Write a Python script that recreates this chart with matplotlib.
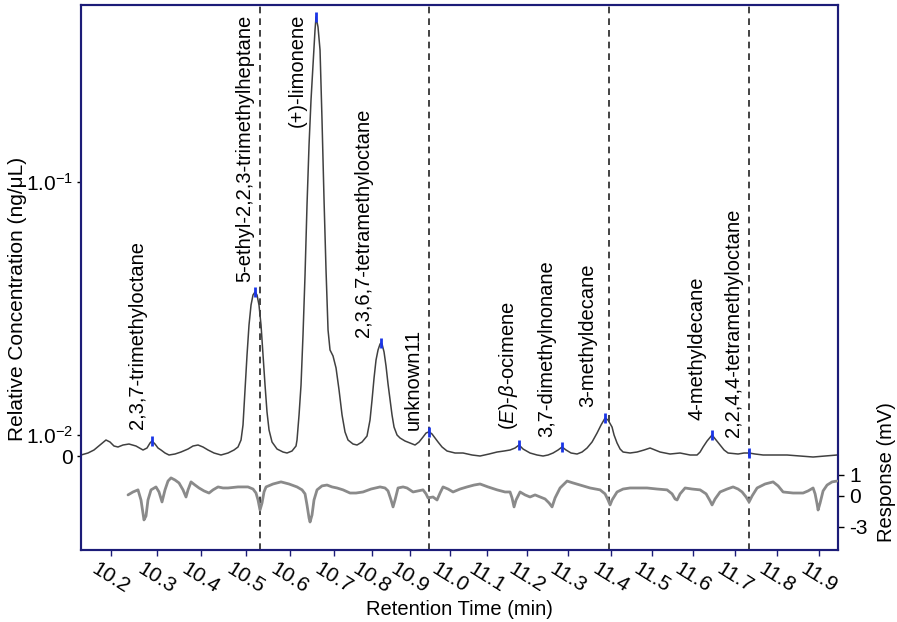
import numpy as np
import matplotlib
matplotlib.use("Agg")
import matplotlib.pyplot as plt

plt.rcParams['font.family'] = ['Liberation Sans', 'DejaVu Sans']
plt.rcParams['mathtext.fontset'] = 'custom'
plt.rcParams['mathtext.rm'] = 'Liberation Sans'
plt.rcParams['mathtext.it'] = 'Liberation Sans:italic'
plt.rcParams['mathtext.bf'] = 'Liberation Sans:bold'

# ---------------- data ----------------
# upper trace: relative concentration (ng/uL) vs retention time (min)
top_t = [10.1348, 10.150, 10.163, 10.1761, 10.1891, 10.1978, 10.2065, 10.2152, 10.2261, 10.2391,
         10.2543, 10.2696, 10.2783, 10.2848, 10.2891, 10.2957, 10.3023, 10.3091, 10.3182, 10.3273,
         10.3409, 10.3545, 10.3705, 10.3818, 10.3932, 10.4044, 10.4156, 10.4289, 10.4444, 10.4600,
         10.4733, 10.4822, 10.4889, 10.4933, 10.4978, 10.5023, 10.5068, 10.5114, 10.5159, 10.5205,
         10.5250, 10.5295, 10.5341, 10.5386, 10.5432, 10.5477, 10.5523, 10.5591, 10.5705, 10.5841,
         10.5932, 10.6045, 10.6136, 10.6159, 10.6205, 10.6250, 10.6295, 10.6341, 10.6386, 10.6432,
         10.6477, 10.6523, 10.6568, 10.6591, 10.6636, 10.6682, 10.6727, 10.6773, 10.6818, 10.6864,
         10.6909, 10.6977, 10.7053, 10.7132, 10.7211, 10.7289, 10.7368, 10.7500, 10.7605, 10.7737,
         10.7868, 10.7947, 10.8000, 10.8053, 10.8105, 10.8158, 10.8211, 10.8237, 10.8263, 10.8316,
         10.8368, 10.8421, 10.8474, 10.8526, 10.8579, 10.8658, 10.8737, 10.8868, 10.9000, 10.9125,
         10.9225, 10.9325, 10.9400, 10.9475, 10.9550, 10.9625, 10.9700, 10.9800, 10.9925, 11.0135,
         11.0351, 11.0595, 11.0811, 11.1050, 11.1250, 11.1425, 11.1575, 11.1700, 11.1800, 11.1900,
         11.2073, 11.2244, 11.2390, 11.2512, 11.2634, 11.2756, 11.2854, 11.2951, 11.3070, 11.3209,
         11.3326, 11.3442, 11.3558, 11.3674, 11.3767, 11.3860, 11.3930, 11.4024, 11.4073, 11.4146,
         11.4220, 11.4293, 11.4463, 11.4634, 11.4805, 11.4951, 11.5073, 11.5195, 11.5439, 11.5683,
         11.5927, 11.6095, 11.6167, 11.6238, 11.6333, 11.6452, 11.6548, 11.6643, 11.6738, 11.6833,
         11.7071, 11.7214, 11.7333, 11.7476, 11.7667, 11.7833, 11.8071, 11.8238, 11.8548, 11.8857,
         11.9143, 11.9429]
top_v = [0.00048, 0.00143, 0.00286, 0.00524, 0.00762, 0.00667, 0.00476, 0.00429, 0.00524, 0.00571,
         0.00476, 0.00286, 0.00381, 0.00619, 0.00714, 0.00571, 0.00381, 0.00286, 0.00143, 0.00048,
         0.00095, 0.00190, 0.00333, 0.00476, 0.00524, 0.00429, 0.00286, 0.00143, 0.00048, 0.00143,
         0.00286, 0.00429, 0.00762, 0.01095, 0.01506, 0.02071, 0.02721, 0.03264, 0.03576, 0.03674,
         0.03576, 0.03264, 0.02721, 0.02071, 0.01576, 0.01233, 0.01047, 0.00667, 0.00333, 0.00190,
         0.00143, 0.00238, 0.00476, 0.00762, 0.01200, 0.01576, 0.02484, 0.04290, 0.08112, 0.14000,
         0.21090, 0.29010, 0.39890, 0.44900, 0.40990, 0.33240, 0.17580, 0.08489, 0.04490, 0.02600,
         0.02168, 0.02053, 0.01840, 0.01506, 0.01200, 0.01028, 0.00762, 0.00571, 0.00524, 0.00667,
         0.00952, 0.01146, 0.01375, 0.01680, 0.01979, 0.02168, 0.02289, 0.02310, 0.02289, 0.02129,
         0.01874, 0.01591, 0.01375, 0.01200, 0.01075, 0.01000, 0.00857, 0.00714, 0.00619, 0.00524,
         0.00667, 0.00905, 0.01018, 0.01030, 0.01009, 0.00857, 0.00667, 0.00429, 0.00238, 0.00143,
         0.00143, 0.00048, 0.00000, 0.00095, 0.00190, 0.00238, 0.00286, 0.00381, 0.00524, 0.00333,
         0.00143, 0.00048, 0.00000, 0.00048, 0.00143, 0.00286, 0.00429, 0.00286, 0.00143, 0.00095,
         0.00190, 0.00381, 0.00667, 0.01018, 0.01095, 0.01167, 0.01146, 0.01075, 0.01000, 0.00619,
         0.00333, 0.00190, 0.00143, 0.00190, 0.00286, 0.00381, 0.00286, 0.00190, 0.00095, 0.00143,
         0.00048, 0.00048, 0.00190, 0.00429, 0.00714, 0.01000, 0.00762, 0.00524, 0.00286, 0.00143,
         0.00095, 0.00143, 0.00143, 0.00095, 0.00048, 0.00048, 0.00048, 0.00048, 0.00000, -0.00048,
         0.00000, 0.00048]

# lower trace: detector response (mV)
bot_t = [10.2370, 10.2478, 10.2587, 10.2652, 10.2696, 10.2717, 10.2761, 10.2804, 10.2870, 10.2978,
         10.3045, 10.3114, 10.3182, 10.3250, 10.3318, 10.3409, 10.3500, 10.3591, 10.3659, 10.3705,
         10.3773, 10.3864, 10.3955, 10.4067, 10.4178, 10.4267, 10.4378, 10.4489, 10.4600, 10.4822,
         10.5045, 10.5159, 10.5227, 10.5273, 10.5318, 10.5364, 10.5409, 10.5455, 10.5614, 10.5795,
         10.5977, 10.6159, 10.6273, 10.6341, 10.6386, 10.6432, 10.6455, 10.6500, 10.6545, 10.6614,
         10.6727, 10.6841, 10.6955, 10.7079, 10.7237, 10.7421, 10.7579, 10.7763, 10.7974, 10.8211,
         10.8342, 10.8421, 10.8500, 10.8553, 10.8605, 10.8684, 10.8816, 10.8921, 10.9075, 10.9200,
         10.9325, 10.9400, 10.9450, 10.9575, 10.9675, 10.9750, 10.9825, 10.9950, 11.0081, 11.0270,
         11.0459, 11.0649, 11.0811, 11.1025, 11.1250, 11.1450, 11.1575, 11.1625, 11.1675, 11.1725,
         11.1825, 11.1950, 11.2073, 11.2195, 11.2317, 11.2439, 11.2537, 11.2610, 11.2683, 11.2805,
         11.2976, 11.3116, 11.3279, 11.3512, 11.3744, 11.3860, 11.3930, 11.3977, 11.4024, 11.4146,
         11.4293, 11.4463, 11.4707, 11.4878, 11.5122, 11.5366, 11.5488, 11.5561, 11.5610, 11.5683,
         11.5805, 11.5976, 11.6167, 11.6310, 11.6405, 11.6452, 11.6524, 11.6643, 11.6810, 11.6952,
         11.7071, 11.7167, 11.7262, 11.7333, 11.7405, 11.7524, 11.7714, 11.7905, 11.8024, 11.8143,
         11.8381, 11.8619, 11.8738, 11.8857, 11.8905, 11.8952, 11.8976, 11.9024, 11.9095, 11.9190,
         11.9310, 11.9429]
bot_v = [0.05, 0.19, 0.29, -0.39, -1.74, -2.32, -1.94, -0.39, 0.29, 0.43,
         0.19, -0.58, 0.29, 0.71, 0.86, 0.76, 0.62, 0.29, -0.10, 0.29,
         0.67, 0.52, 0.38, 0.24, 0.14, 0.29, 0.43, 0.38, 0.38, 0.43,
         0.43, 0.33, 0.14, -0.39, -1.36, -0.68, 0.19, 0.43, 0.57, 0.67,
         0.57, 0.43, 0.29, 0.10, -0.87, -2.13, -2.52, -1.84, -0.39, 0.29,
         0.48, 0.52, 0.43, 0.38, 0.29, 0.14, 0.14, 0.19, 0.33, 0.43,
         0.38, 0.24, -0.39, -1.06, -0.39, 0.38, 0.43, 0.38, 0.19, 0.24,
         0.29, 0.10, -0.19, -0.10, -0.39, 0.14, 0.43, 0.33, 0.19, 0.33,
         0.43, 0.52, 0.57, 0.43, 0.29, 0.19, 0.19, -0.19, -1.06, -0.39,
         0.19, 0.05, -0.10, 0.05, -0.10, -0.29, -0.68, -1.06, -0.19, 0.38,
         0.71, 0.62, 0.52, 0.38, 0.29, 0.10, -0.39, -0.87, -0.39, 0.19,
         0.33, 0.38, 0.38, 0.38, 0.33, 0.29, 0.10, -0.29, -0.39, 0.10,
         0.38, 0.33, 0.29, 0.10, -0.48, -0.87, -0.29, 0.19, 0.33, 0.43,
         0.33, 0.19, -0.10, -0.58, 0.00, 0.38, 0.57, 0.67, 0.48, 0.19,
         0.14, 0.14, 0.24, 0.38, 0.10, -0.77, -1.36, -0.68, 0.24, 0.52,
         0.67, 0.71]

# identified peaks
peak_names = ['2,3,7-trimethyloctane', '5-ethyl-2,2,3-trimethylheptane', '(+)-limonene',
              '2,3,6,7-tetramethyloctane', 'unknown11', r'($\mathit{E}$)-$\beta$-ocimene',
              '3,7-dimethylnonane', '3-methyldecane', '4-methyldecane',
              '2,2,4,4-tetramethyloctane']
peak_t = [10.2891, 10.5205, 10.6591, 10.8237, 10.9475, 11.1800, 11.2854, 11.3860, 11.6452, 11.7333]
peak_v = [0.00714, 0.03674, 0.449, 0.0231, 0.0103, 0.00524, 0.00429, 0.01167, 0.0100, 0.00143]

# dashed reference lines (min)
ref_t = [10.532, 10.9475, 11.395, 11.733]

x_ticks = [10.2, 10.3, 10.4, 10.5, 10.6, 10.7, 10.8, 10.9, 11.0, 11.1,
           11.2, 11.3, 11.4, 11.5, 11.6, 11.7, 11.8, 11.9]
x_tick_labels = ['10.2', '10.3', '10.4', '10.5', '10.6', '10.7', '10.8', '10.9', '11.0', '11.1',
                 '11.2', '11.3', '11.4', '11.5', '11.6', '11.7', '11.8', '11.9']
left_ticks = [0, 0.01, 0.1]
left_tick_labels = ['0', r'1.0$^{-2}$', r'1.0$^{-1}$']
right_ticks = [1, 0, -3]
right_tick_labels = ['1', '0', '-3']

# ---------------- layout / scales ----------------
# the original composite has an uneven time axis: tick screen positions
x_tick_screen = [111, 157, 201, 246, 290, 334, 372, 410, 450, 487,
                 527, 568, 611, 652, 693, 735, 777, 819]
# right axis screen positions (inverted pixel rows) of -3, 0, 1 mV
right_knots = [-3, 0, 1]
right_screen = [-527, -496, -475]


def piecewise(xp, fp):
    xp = np.asarray(xp, float)
    fp = np.asarray(fp, float)

    def f(x):
        x = np.asarray(x, float)
        y = np.interp(x, xp, fp)
        y = np.where(x < xp[0], fp[0] + (x - xp[0]) * (fp[1] - fp[0]) / (xp[1] - xp[0]), y)
        y = np.where(x > xp[-1], fp[-1] + (x - xp[-1]) * (fp[-1] - fp[-2]) / (xp[-1] - xp[-2]), y)
        return y
    return f


NAVY = '#1c1c78'
fig = plt.figure(figsize=(8.97, 6.22), dpi=100)
ax = fig.add_axes([81 / 897, 72 / 622, 757 / 897, 545 / 622])
ax.set_xscale('function', functions=(piecewise(x_ticks, x_tick_screen),
                                     piecewise(x_tick_screen, x_ticks)))
ax.set_xlim(10.1348, 11.945)
ax.set_yscale('symlog', linthresh=0.01, linscale=0.0747, base=10)
ax.set_ylim(-0.01943, 0.5006)

ax2 = ax.twinx()
ax2.set_yscale('function', functions=(piecewise(right_knots, right_screen),
                                      piecewise(right_screen, right_knots)))
ax2.set_ylim(-5.23, 23.38)

for t in ref_t:
    ax.axvline(t, color='#222222', lw=1.2, ls=(0, (4, 3)), zorder=1)

ax.plot(top_t, top_v, color='#404040', lw=1.1, zorder=3,
        solid_joinstyle='round', solid_capstyle='round')
ax2.plot(bot_t, bot_v, color='#8a8a8a', lw=2.0, zorder=3,
         solid_joinstyle='round', solid_capstyle='round')
ax.plot(peak_t, peak_v, ls='none', marker='|', ms=7, mew=2, color='#1a35e6', zorder=4)

label_offsets = [(-14, 12), (-10, 10), (-19, -110), (-18, 6), (-16, 2),
                 (-11, 15), (-15, 10), (-17, 11), (-15, 15), (-16, 16)]
for name, t, v, off in zip(peak_names, peak_t, peak_v, label_offsets):
    ax.annotate(name, xy=(t, v), xytext=off, textcoords='offset pixels',
                rotation=90, ha='center', va='bottom', fontsize=14.5, color='black')

ax.set_xticks(x_ticks)
ax.set_xticklabels(x_tick_labels, rotation=-32, ha='center', fontsize=15)
ax.xaxis.set_minor_locator(matplotlib.ticker.NullLocator())
ax.set_yticks(left_ticks)
ax.set_yticklabels(left_tick_labels, fontsize=15)
ax.yaxis.set_minor_locator(matplotlib.ticker.NullLocator())
ax2.set_yticks(right_ticks)
ax2.set_yticklabels(right_tick_labels, fontsize=15)
ax2.yaxis.set_minor_locator(matplotlib.ticker.NullLocator())

ax.tick_params(axis='x', direction='out', length=4, width=1, color=NAVY, pad=3)
ax.tick_params(axis='y', direction='out', length=3, width=1, color='black', pad=3)
ax2.tick_params(axis='y', direction='out', length=4, width=1, color='black', pad=4)

for a in (ax, ax2):
    for s in a.spines.values():
        s.set_color(NAVY)
        s.set_linewidth(1.5)

ax.set_xlabel('Retention Time (min)', fontsize=14.5, labelpad=2)
ax.set_ylabel('Relative Concentration (ng/μL)', fontsize=15)
ax.yaxis.set_label_coords(-0.0713, 0.461)
ax2.set_ylabel('Response (mV)', fontsize=14.5, rotation=90)
ax2.yaxis.set_label_coords(1.0515, 0.143)

fig.savefig('out.png', dpi=100)
